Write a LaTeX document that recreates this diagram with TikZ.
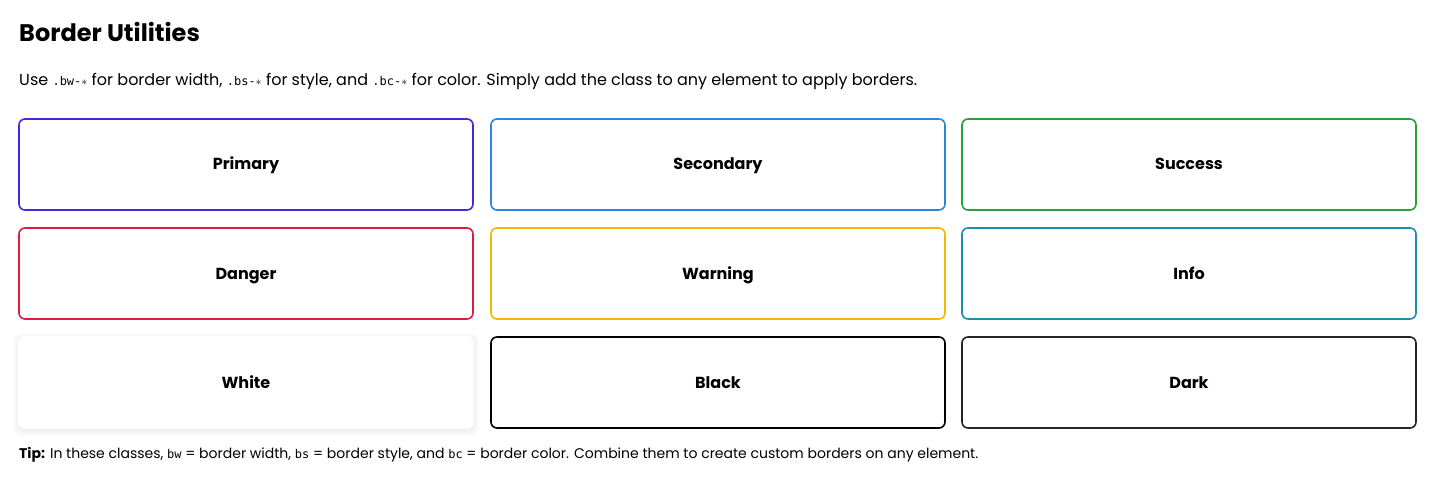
\documentclass[tikz,border=0pt]{standalone}
\usepackage{fontspec}
\setmainfont{Poppins}
\setmonofont{DejaVu Sans Mono}
\definecolor{cprimary}{HTML}{5022D8}
\definecolor{csecondary}{HTML}{2B88D8}
\definecolor{csuccess}{HTML}{28A03C}
\definecolor{cdanger}{HTML}{DC1E3C}
\definecolor{cwarning}{HTML}{F5B800}
\definecolor{cinfo}{HTML}{1E8FAA}
\definecolor{cdark}{HTML}{212529}
\newcommand{\cls}[1]{\texttt{\fontsize{12}{14}\selectfont #1}}
\tikzset{
  card/.style={draw=#1, line width=1.6pt, rounded corners=6pt, fill=white,
    minimum width=454pt, minimum height=91pt, inner sep=0pt,
    text height=11pt, text depth=0pt,
    font=\fontsize{16}{19}\selectfont\bfseries},
  txt/.style={anchor=west, inner sep=0pt}
}
\begin{document}
\begin{tikzpicture}[x=1pt, y=-1pt]
  \useasboundingbox (0,0) rectangle (1439,497);
  % heading
  \node[txt] (title) at (19,32) {\fontsize{24}{28}\selectfont\bfseries Border Utilities};
  \node[txt] (intro) at (19,81) {\fontsize{16}{18}\selectfont Use \cls{.bw-$*$} for border width, \cls{.bs-$*$} for style, and \cls{.bc-$*$} for color. Simply add the class to any element to apply borders.};
  % shadow of the white card
  \foreach \s/\o in {6/0.015,4/0.02,2/0.025}
    \fill[black, opacity=\o, rounded corners=8pt] (19-\s,337-\s+2) rectangle (473+\s,428+\s+2);
  % cards
  \node[card=cprimary]   (primary)   at (246,164.5) {Primary};
  \node[card=csecondary] (secondary) at (718,164.5) {Secondary};
  \node[card=csuccess]   (success)   at (1189,164.5) {Success};
  \node[card=cdanger]    (danger)    at (246,273.5) {Danger};
  \node[card=cwarning]   (warning)   at (718,273.5) {Warning};
  \node[card=cinfo]      (info)      at (1189,273.5) {Info};
  \node[card=white]      (white)     at (246,382.5) {White};
  \node[card=black]      (black)     at (718,382.5) {Black};
  \node[card=cdark]      (dark)      at (1189,382.5) {Dark};
  % footnote
  \node[txt] (tip) at (19,455) {\fontsize{14}{16}\selectfont\textbf{Tip:} In these classes, \cls{bw} = border width, \cls{bs} = border style, and \cls{bc} = border color. Combine them to create custom borders on any element.};
\end{tikzpicture}
\end{document}
